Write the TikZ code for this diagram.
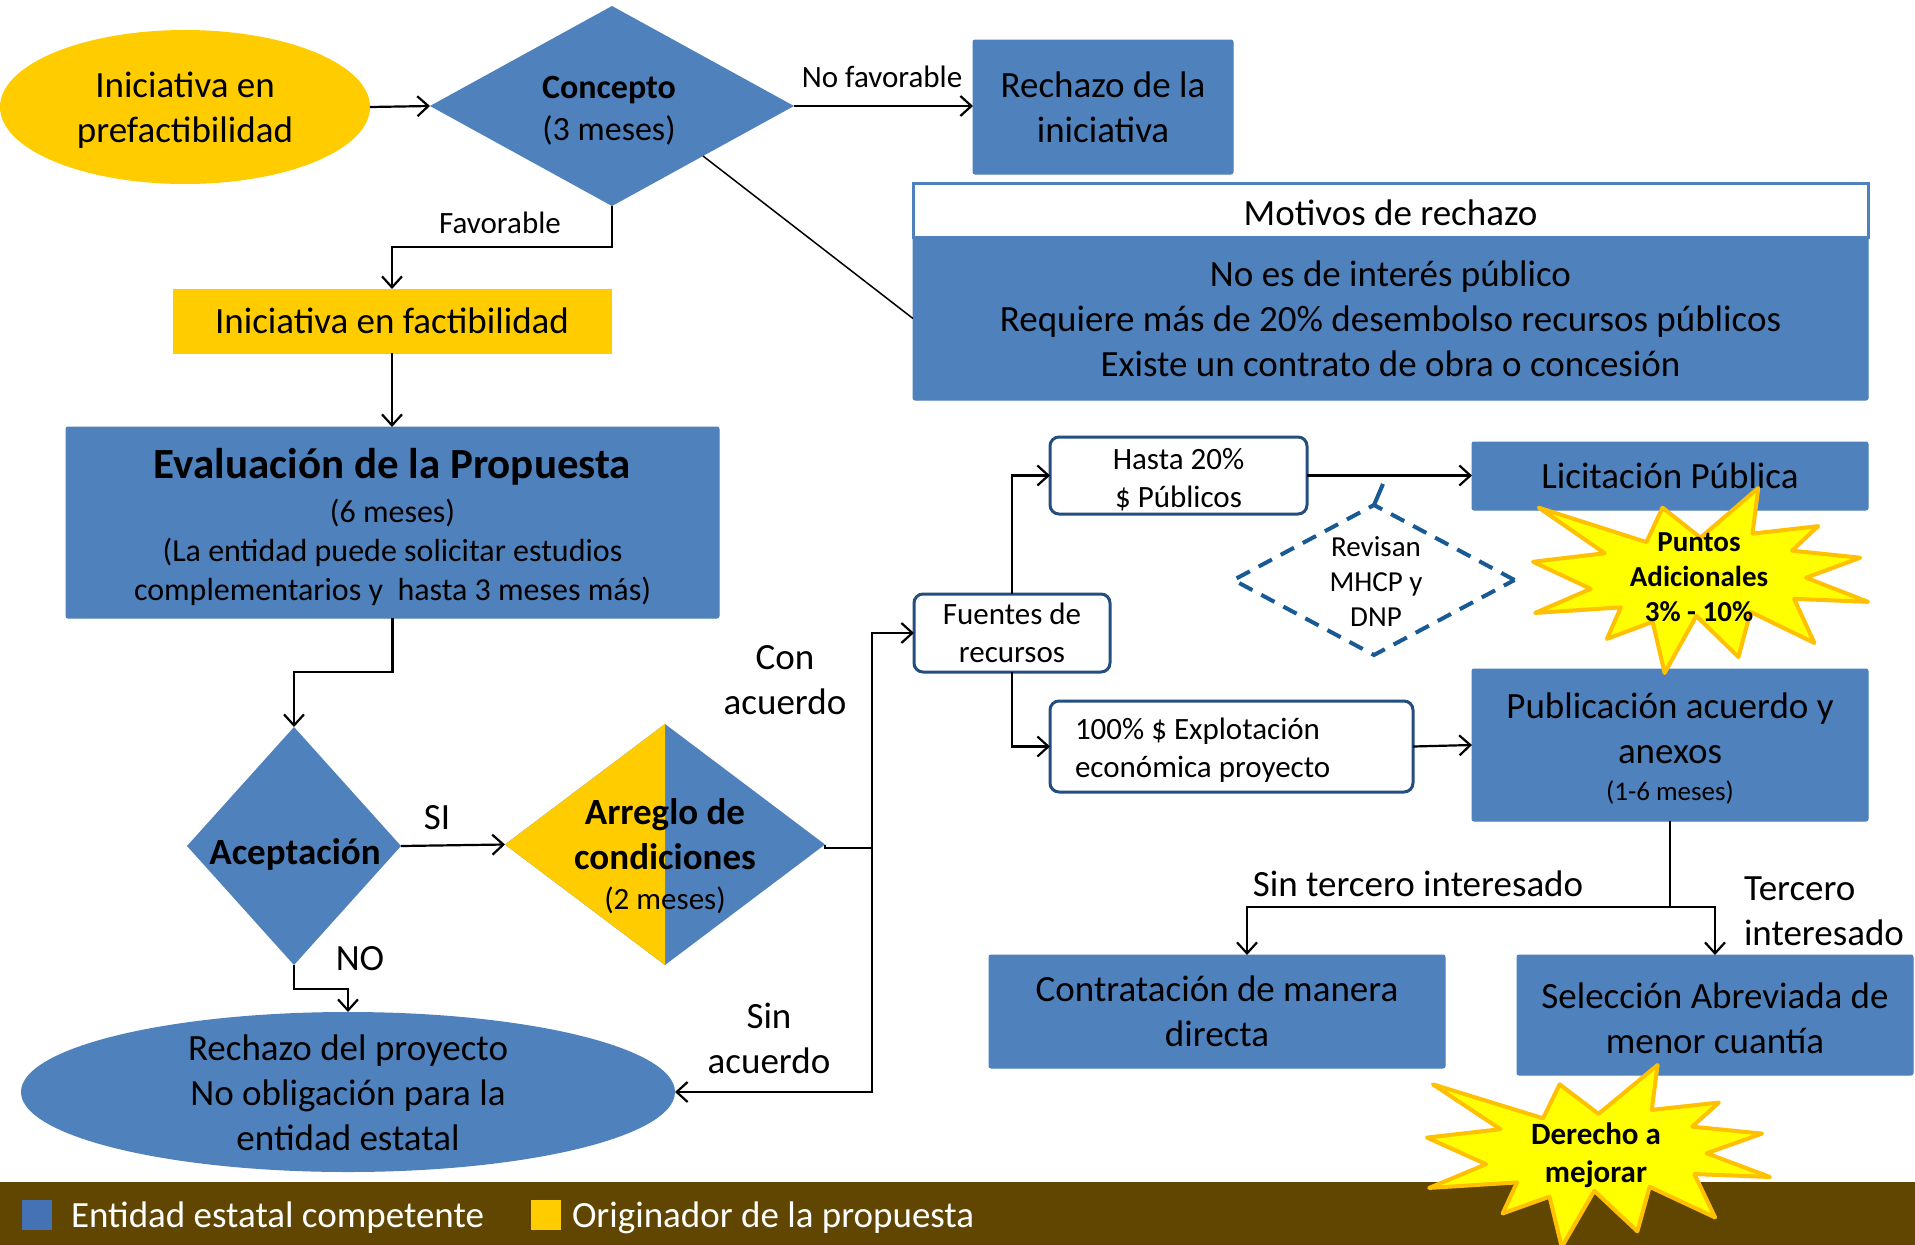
\documentclass[tikz,border=0pt]{standalone}
\usepackage{fontspec}
\setmainfont{Carlito}
\usetikzlibrary{shapes.geometric,arrows.meta,calc}
\definecolor{eblue}{HTML}{4F81BD}
\definecolor{legblue}{HTML}{4472B4}
\definecolor{oyellow}{HTML}{FFCC00}
\definecolor{staryel}{HTML}{FFFF00}
\definecolor{starorg}{HTML}{FFC000}
\definecolor{rbord}{HTML}{254E80}
\definecolor{dashblue}{HTML}{175A96}
\definecolor{barbrown}{HTML}{604600}
\newcommand\fsA{\fontsize{37}{45}\selectfont}
\newcommand\fsM{\fontsize{34}{42}\selectfont}
\newcommand\fsE{\fontsize{32}{39}\selectfont}
\newcommand\fsB{\fontsize{31}{38}\selectfont}
\newcommand\fsC{\fontsize{29}{35}\selectfont}
\newcommand\fsD{\fontsize{27}{33}\selectfont}
\newcommand\fsT{\fontsize{43}{46}\selectfont}
\newcommand\drawexplosion[4]{%
\begin{scope}[shift={(#1,#2)},xscale=#3,yscale=#4]
\filldraw[starsh] (50.00,26.85) -- (67.23,0) -- (65.53,24.65) -- (85.09,20.63) -- (77.32,33.87) -- (97.67,37.67) -- (81.51,48.50) -- (100,61.53) -- (77.95,59.92) -- (84.00,83.77) -- (64.91,66.93) -- (61.33,91.37) -- (48.76,69.14) -- (39.28,100) -- (35.72,72.35) -- (22.05,81.56) -- (26.24,64.52) -- (0.63,67.53) -- (17.23,54.51) -- (0,39.88) -- (21.42,35.26) -- (1.71,10.63) -- (33.85,29.26) -- (38.67,10.63) -- cycle;
\end{scope}}
\begin{document}
\begin{tikzpicture}[x=1pt,y=-1pt,
  every node/.style={inner sep=0pt,outer sep=0pt,align=center,font=\fsA,text=black},
  bluerect/.style={rectangle,fill=eblue,draw=eblue,line width=1pt,rounded corners=2pt},
  yelrect/.style={rectangle,fill=oyellow,draw=oyellow,line width=1pt},
  rbox/.style={rectangle,rounded corners=9pt,draw=rbord,line width=3pt,fill=white,font=\fsB},
  arr/.style={-{Straight Barb[length=11pt,width=20pt]},line width=2.2pt},
  conn/.style={line width=2.2pt},
  starsh/.style={fill=staryel,draw=starorg,line width=4pt,line join=round},
]
\useasboundingbox (0,0) rectangle (1915,1245);
\fill[white] (0,0) rectangle (1915,1245);

% legend bar
\node[fill=barbrown,minimum width=1915pt,minimum height=63pt,anchor=north west] (bar) at (0,1182) {};
\node[fill=legblue,minimum size=30pt] (lgB) at (37,1215) {};
\node[anchor=west,text=white] (lgBT) at (71,1218) {Entidad estatal competente};
\node[fill=oyellow,minimum size=30pt] (lgY) at (546,1215) {};
\node[anchor=west,text=white] (lgYT) at (572,1218) {Originador de la propuesta};

% top row
\node[ellipse,fill=oyellow,minimum width=370pt,minimum height=154pt] (pref) at (185,107) {};
\node (prefT) at (185,110) {Iniciativa en\\prefactibilidad};
\node[diamond,fill=eblue,minimum width=364pt,minimum height=200pt] (conc) at (612,106) {};
\node[font=\fsM] (concT) at (609,111) {\textbf{Concepto}\\(3 meses)};
\node[bluerect,minimum width=260pt,minimum height=134pt] (rechI) at (1103,107) {Rechazo de la\\iniciativa};
\node[bluerect,minimum width=955pt,minimum height=163pt] (motB) at (1390.5,318.5) {No es de interés público\\Requiere más de 20\% desembolso recursos públicos\\Existe un contrato de obra o concesión};
\node[rectangle,fill=white,draw=eblue,line width=3pt,minimum width=955pt,minimum height=54pt] (motH) at (1390.5,210) {};
\node (motHT) at (1390.5,213) {Motivos de rechazo};

% left column
\node[yelrect,minimum width=438pt,minimum height=64pt] (fact) at (392,321) {Iniciativa en factibilidad};
\node[bluerect,minimum width=653pt,minimum height=191pt] (eval) at (392.5,522.5) {};
\node[font=\fsE] (evalT) at (392.5,527) {{\fsT\bfseries Evaluación de la Propuesta}\\[5pt](6 meses)\\(La entidad puede solicitar estudios\\complementarios y\ \ hasta 3 meses más)};
\node[diamond,fill=eblue,minimum width=214pt,minimum height=238pt] (acep) at (294,846) {};
\node (acepT) at (295,854) {\bfseries Aceptación};
\node[diamond,fill=eblue,minimum width=320pt,minimum height=241pt] (arre) at (665,844.5) {};
\fill[oyellow] (arre.north) -- (arre.west) -- (arre.south) -- cycle;
\node (arreT) at (665,856) {\textbf{Arreglo de}\\\textbf{condiciones}\\[-5pt]{\fsB(2 meses)}};
\node[ellipse,fill=eblue,minimum width=654pt,minimum height=160pt] (rechP) at (348,1092) {};
\node (rechPT) at (348,1093) {Rechazo del proyecto\\No obligación para la\\entidad estatal};

% right part
\node[rbox,minimum width=196pt,minimum height=78pt] (fuen) at (1012,633) {Fuentes de\\recursos};
\node[rbox,minimum width=257pt,minimum height=77pt] (hasta) at (1178.5,475.5) {};
\node[font=\fsB] (hastaT) at (1178.5,479.5) {Hasta 20\%\\\$ Públicos};
\node[rbox,minimum width=363pt,minimum height=91pt] (cien) at (1231.5,746.5) {};
\node[font=\fsB,anchor=west,align=left] (cienT) at (1075,750.5) {100\% \$ Explotación\\económica proyecto};
\node[bluerect,minimum width=396pt,minimum height=68pt] (lic) at (1670,476) {Licitación Pública};
\node[bluerect,minimum width=396pt,minimum height=152pt] (pub) at (1670,745) {};
\node (pubT) at (1670,749) {Publicación acuerdo y\\anexos\\[-8pt]{\fsD (1-6 meses)}};
\node[diamond,draw=dashblue,dash pattern=on 15pt off 10pt,line width=4pt,minimum width=281pt,minimum height=150pt] (rev) at (1374,580) {};
\node[font=\fsC] (revT) at (1376,582) {Revisan\\MHCP y\\DNP};
\node[bluerect,minimum width=456pt,minimum height=113pt] (contr) at (1217,1011.5) {Contratación de manera\\directa};
\node[bluerect,minimum width=396pt,minimum height=120pt] (sel) at (1715,1015) {};
\node (selT) at (1715,1018) {Selección Abreviada de\\menor cuantía};

% connectors
\draw[arr] (pref.east) -- (conc.west);
\draw[arr] (conc.east) -- (rechI.west |- conc.east);
\draw[line width=1.5pt] (conc.south east) -- (motB.west);
\coordinate (favK) at (612,247);
\draw[arr] (conc.south) -- (favK) -| (fact.north);
\draw[arr] (fact.south) -- (fact.south |- eval.north);
\coordinate (evK) at (392.5,672);
\draw[arr] (eval.south) -- (evK) -| (acep.north);
\draw[arr] (acep.east) -- (arre.west);
\coordinate (noK) at (294,989);
\draw[arr] (acep.south) -- (noK) -| (rechP.north);
\coordinate (spl) at (872,848);
\draw[conn] (arre.east) -- ++(0,3.5) -- (spl);
\draw[arr] (spl) |- (fuen.west);
\draw[arr] (spl) |- (rechP.east);
\draw[arr] (fuen.north) |- (hasta.west);
\draw[arr] (fuen.south) |- (cien.west);
\draw[arr] (hasta.east) -- (lic.west |- hasta.east);
\draw[arr] (cien.east) -- (pub.west);
\coordinate (revK) at (1383,484);
\draw[dashblue,line width=4pt] (rev.north) -- (revK);
\coordinate (pubK) at (1670,907);
\draw[conn] (pub.south) -- (pubK);
\draw[arr] (pubK) -| ([xshift=30pt]contr.north);
\draw[arr] (pubK) -| (sel.north);

% labels
\node[font=\fsB] (lNoFav) at (882,77) {No favorable};
\node[font=\fsB] (lFav) at (500,223) {Favorable};
\node (lSI) at (437,818) {SI};
\node (lNO) at (360,959) {NO};
\node (lCon) at (785,680) {Con\\acuerdo};
\node (lSin) at (769,1038) {Sin\\acuerdo};
\node (lSinT) at (1418,884) {Sin tercero interesado};
\node[anchor=west,align=left] (lTer) at (1744,911) {Tercero\\interesado};

% stars
\drawexplosion{1533}{488}{3.35}{1.85}
\node[font=\fsC\bfseries] (puntT) at (1699,577) {Puntos\\Adicionales\\3\% - 10\%};
\drawexplosion{1427}{1065}{3.43}{1.82}
\node[font=\fsB\bfseries] (derT) at (1596,1155) {Derecho a\\mejorar};
\end{tikzpicture}
\end{document}
